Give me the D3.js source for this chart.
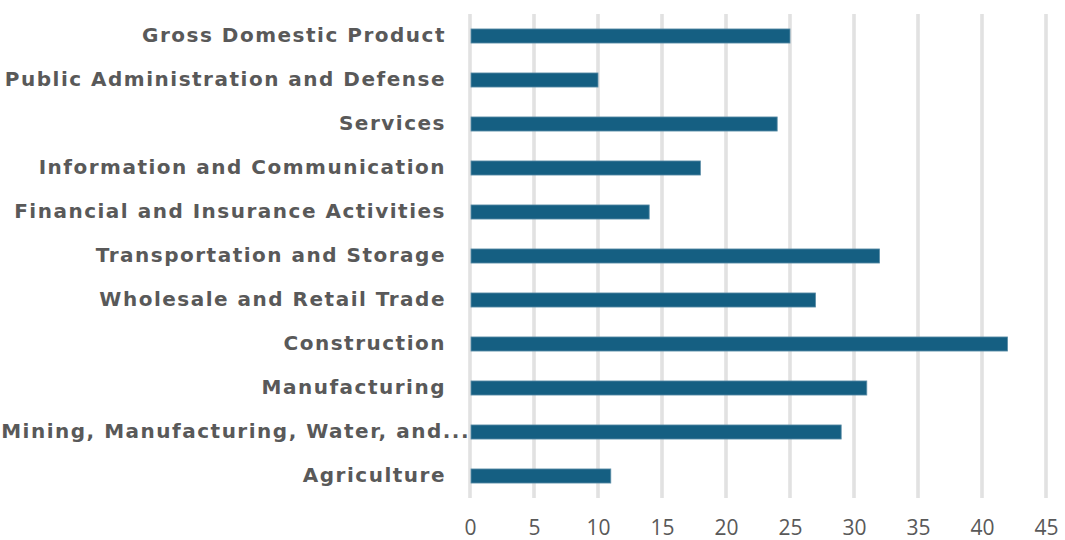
<!DOCTYPE html>
<html><head><meta charset="utf-8">
<script src="https://cdn.jsdelivr.net/npm/d3@7"></script>
<style>body{margin:0;background:#fff}</style>
</head><body>
<svg id="c" width="1065" height="540"></svg>
<script>
const categories = ["Gross Domestic Product","Public Administration and Defense","Services","Information and Communication","Financial and Insurance Activities","Transportation and Storage","Wholesale and Retail Trade","Construction","Manufacturing","Mining, Manufacturing, Water, and...","Agriculture"];
const values = [25,10,24,18,14,32,27,42,31,29,11];
const ticks = [0,5,10,15,20,25,30,35,40,45];

const svg = d3.select("#c");
const x = d3.scaleLinear().domain([0,45]).range([470,1046]);
const y = d3.scaleBand().domain(categories).range([14,498]).paddingInner(0.68).paddingOuter(0.34);

const grid = svg.append("g");
grid.selectAll("line.o").data(ticks).join("line")
  .attr("x1",d=>x(d)).attr("x2",d=>x(d)).attr("y1",14).attr("y2",498)
  .attr("stroke","#cfcfcf").attr("stroke-width",3);
grid.selectAll("line.i").data(ticks).join("line")
  .attr("x1",d=>x(d)).attr("x2",d=>x(d)).attr("y1",14).attr("y2",498)
  .attr("stroke","#f4f4f4").attr("stroke-width",1);

svg.append("g").selectAll("rect").data(categories).join("rect")
  .attr("x",x(0)+1).attr("y",d=>y(d))
  .attr("width",(d,i)=>x(values[i])-x(0)-1).attr("height",y.bandwidth())
  .attr("fill","#155f82").attr("stroke","#5f8fa8").attr("stroke-width",0.8);

const ax = svg.append("g").attr("transform","translate(0,498)")
  .call(d3.axisBottom(x).tickValues(ticks).tickSize(0).tickPadding(22));
ax.select(".domain").remove();
ax.selectAll("text").attr("font-family","Open Sans, sans-serif").attr("font-size",21).attr("fill","#595959");

const ay = svg.append("g").attr("transform","translate(446,0)")
  .call(d3.axisLeft(y).tickSize(0).tickPadding(0));
ay.select(".domain").remove();
ay.selectAll("text").attr("font-family","DejaVu Sans, sans-serif").attr("font-weight","bold").attr("font-size",20)
  .attr("letter-spacing","1.5px").attr("fill","#595959")
  .attr("dx",d=>d.endsWith("...")?24:0);
</script>
</body></html>
